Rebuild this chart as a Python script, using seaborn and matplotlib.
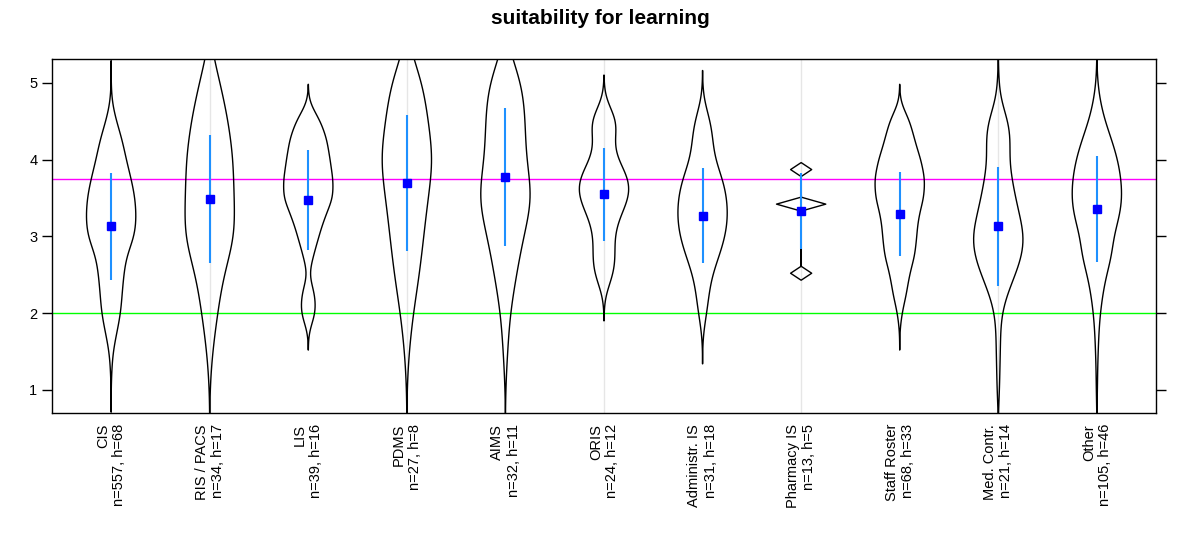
import numpy as np
import pandas as pd
import matplotlib.pyplot as plt
import seaborn as sns

# categories and summary values
categories = ["CIS", "RIS / PACS", "LIS", "PDMS", "AIMS", "ORIS", "Administr. IS",
              "Pharmacy IS", "Staff Roster", "Med. Contr.", "Other"]
n_resp = [557, 34, 39, 27, 32, 24, 31, 13, 68, 21, 105]
n_hosp = [68, 17, 16, 8, 11, 12, 18, 5, 33, 14, 46]
means = [3.13, 3.49, 3.47, 3.69, 3.77, 3.55, 3.27, 3.33, 3.29, 3.13, 3.36]
sds = [0.70, 0.835, 0.65, 0.885, 0.90, 0.605, 0.615, 0.49, 0.55, 0.77, 0.69]

# score levels and estimated answer counts behind each violin
quarter_steps = [1.0, 1.25, 1.5, 1.75, 2.0, 2.25, 2.5, 2.75, 3.0, 3.25, 3.5, 3.75,
                 4.0, 4.25, 4.5, 4.75, 5.0]
half_steps = [1.0, 1.5, 2.0, 2.5, 3.0, 3.5, 4.0, 4.5, 5.0]
pharmacy_steps = [2.52, 3.42, 3.87]

counts_cis = [0, 1, 3, 10, 17, 19, 22, 26, 42, 44, 42, 35, 26, 20, 9, 1, 0]
counts_ris = [0, 1, 3, 5, 10, 9, 9, 7, 4]
counts_lis = [0, 0, 0, 0, 15, 13, 0, 10, 20, 31, 48, 47, 41, 36, 24, 0, 0]
counts_pdms = [0, 1, 3, 6, 8, 10, 13, 10, 8]
counts_aims = [0, 1, 2, 5, 8, 13, 9, 9, 8]
counts_oris = [0, 0, 0, 0, 0, 0, 16, 17, 14, 22, 39, 40, 18, 12, 26, 0, 0]
counts_admin = [0, 0, 0, 0, 7, 9, 13, 25, 34, 38, 36, 31, 16, 15, 14, 0, 0]
counts_pharmacy = [3, 7, 3]
counts_staff = [0, 0, 0, 0, 4, 13, 18, 29, 32, 35, 46, 48, 40, 28, 20, 0, 0]
counts_med = [2, 2, 3, 3, 4, 12, 24, 34, 38, 30, 24, 19, 14, 18, 16, 2, 1]
counts_other = [1, 1, 2, 3, 5, 9, 14, 24, 24, 35, 39, 37, 32, 23, 12, 5, 1]

levels = [quarter_steps, half_steps, quarter_steps, half_steps, half_steps, quarter_steps,
          quarter_steps, pharmacy_steps, quarter_steps, quarter_steps, quarter_steps]
counts = [counts_cis, counts_ris, counts_lis, counts_pdms, counts_aims, counts_oris,
          counts_admin, counts_pharmacy, counts_staff, counts_med, counts_other]

# kde smoothing per violin
kde_bw = [0.18, 0.35, 0.16, 0.35, 0.35, 0.2, 0.22, 0.03, 0.16, 0.22, 0.2]
grid_n = [100, 100, 100, 100, 100, 100, 100, 18, 100, 100, 100]

rows = []
for cat, lv, ct in zip(categories, levels, counts):
    for v in np.repeat(lv, ct):
        rows.append((cat, v))
df = pd.DataFrame(rows, columns=["system", "score"])

sns.set_style("ticks")
plt.rcParams["font.family"] = ["Liberation Sans", "DejaVu Sans"]
plt.rcParams["text.color"] = "black"
plt.rcParams["xtick.color"] = "black"
plt.rcParams["ytick.color"] = "black"

fig, ax = plt.subplots(figsize=(12, 5.45), dpi=100)
fig.subplots_adjust(left=52 / 1200, right=1156 / 1200, top=1 - 59 / 545, bottom=1 - 413 / 545)

ax.axhline(3.75, color="#ff00ff", lw=1, zorder=1)
ax.axhline(2.0, color="#00ff00", lw=1, zorder=1)
for i in range(1, len(categories), 2):
    ax.axvline(i, color="#e6e6e6", lw=1, zorder=0)

for cat, bw, gs in zip(categories, kde_bw, grid_n):
    sub = df[df["system"] == cat]
    sns.violinplot(data=sub, x="system", y="score", order=categories,
                   bw_method=bw / sub["score"].std(), cut=3, gridsize=gs,
                   width=0.5, density_norm="width", inner=None, fill=False,
                   color="black", saturation=1, linewidth=1, ax=ax)

pos = np.arange(len(categories))
ax.errorbar(pos, means, yerr=sds, fmt="s", color="#0000ff", ms=6,
            ecolor="#1e90ff", elinewidth=1.5, capsize=0, zorder=5)

ax.set_xlim(-0.6, len(categories) - 0.4)
ax.set_ylim(0.70, 5.31)
ax.set_yticks([1, 2, 3, 4, 5])
ax.set_xticks(pos)
ax.set_xticklabels([f"{c}\nn={n}, h={h}" for c, n, h in zip(categories, n_resp, n_hosp)],
                   rotation=90, fontsize=10.5, multialignment="right", va="top")
ax.tick_params(axis="x", length=0, pad=8)
ax.tick_params(axis="y", left=True, right=True, labelleft=True, labelright=False,
               direction="out", length=7, width=1, labelsize=10.5)
ax.set_xlabel("")
ax.set_ylabel("")
for s in ax.spines.values():
    s.set_visible(True)
    s.set_color("black")
    s.set_linewidth(1)

fig.text(0.5, 1 - 18 / 545, "suitability for learning", ha="center", va="center",
         fontsize=15, fontweight="bold")

plt.savefig("out.png", dpi=100)
